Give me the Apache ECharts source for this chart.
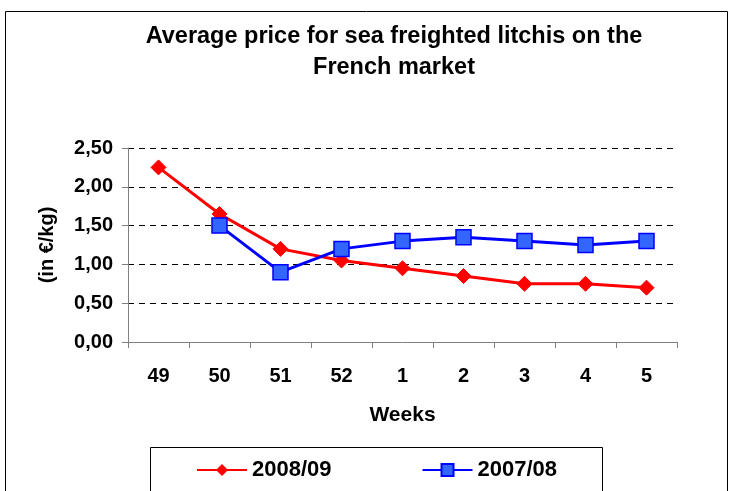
<!DOCTYPE html>
<html><head><meta charset="utf-8">
<script src="https://cdn.jsdelivr.net/npm/echarts@6/dist/echarts.min.js"></script>
<style>html,body{margin:0;padding:0;background:#fff}#c{width:730px;height:491px}</style>
</head><body><div id="c"></div>
<script>
const weeks = ['49','50','51','52','1','2','3','4','5'];
const price0809 = [2.25,1.65,1.2,1.05,0.95,0.85,0.75,0.75,0.7];
const price0708 = [null,1.5,0.9,1.2,1.3,1.35,1.3,1.25,1.3];
const yTicks = [0,0.5,1,1.5,2,2.5];
const fmt = v => v.toFixed(2).replace('.', ',');
const FONT = '"Liberation Sans", Arial, sans-serif';
const chart = echarts.init(document.getElementById('c'));
chart.setOption({
  animation:false,
  backgroundColor:'#fff',
  title:{text:'Average price for sea freighted litchis on the\nFrench market',left:389,top:16,textAlign:'center',
    textStyle:{fontFamily:FONT,fontWeight:'bold',fontSize:23.5,lineHeight:31,color:'#000'}},
  graphic:[
    {type:'rect',shape:{x:5.5,y:11.5,width:722,height:520},style:{fill:'none',stroke:'#000',lineWidth:1},z:-1},
    {type:'rect',shape:{x:150.5,y:447.5,width:452,height:60},style:{fill:'none',stroke:'#000',lineWidth:1},z:-1}
  ],
  legend:{left:191,top:454,itemWidth:50,itemHeight:15,itemGap:90,
    textStyle:{fontFamily:FONT,fontWeight:'bold',fontSize:22,color:'#000'},
    data:['2008/09','2007/08']},
  grid:{left:128,right:53,top:148,bottom:149},
  xAxis:{type:'category',data:weeks,boundaryGap:true,
    name:'Weeks',nameLocation:'middle',nameGap:63,
    nameTextStyle:{fontFamily:FONT,fontWeight:'bold',fontSize:21,color:'#000'},
    axisLine:{lineStyle:{color:'#808080',width:1}},
    axisTick:{show:true,length:6,lineStyle:{color:'#808080'}},
    axisLabel:{fontFamily:FONT,fontWeight:'bold',fontSize:20,color:'#000',margin:24}},
  yAxis:{type:'value',min:0,max:2.5,interval:0.5,
    name:'(in €/kg)',nameLocation:'middle',nameGap:71,nameRotate:90,
    nameTextStyle:{fontFamily:FONT,fontWeight:'bold',fontSize:20,color:'#000'},
    axisLine:{show:true,lineStyle:{color:'#808080',width:1}},
    axisTick:{show:true,length:6,lineStyle:{color:'#808080'}},
    axisLabel:{fontFamily:FONT,fontWeight:'bold',fontSize:20,color:'#000',margin:15,
      formatter:v=>fmt(v)},
    splitLine:{show:true,lineStyle:{color:'#000',type:[6,5],width:1}}},
  series:[
    {name:'2008/09',type:'line',data:price0809,symbol:'diamond',symbolSize:15,
      lineStyle:{color:'#FF0000',width:3},itemStyle:{color:'#FF0000',borderColor:'#FF0000'}},
    {name:'2007/08',type:'line',data:price0708,symbol:'rect',symbolSize:15,connectNulls:false,
      lineStyle:{color:'#0000FF',width:3},itemStyle:{color:'#3366FF',borderColor:'#0000FF',borderWidth:1.5}}
  ]
});
</script></body></html>
